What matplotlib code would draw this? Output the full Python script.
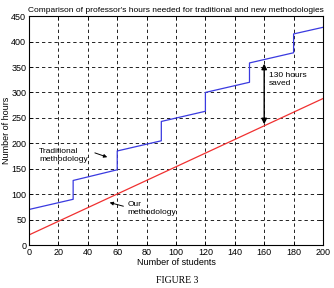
import matplotlib.pyplot as plt

# step-like traditional curve (x, y) points
trad_x = [0, 30, 30, 60, 60, 90, 90, 120, 120, 150, 150, 180, 180, 200]
trad_y = [70, 90, 127, 148, 185, 205, 243, 263, 300, 320, 358, 378, 415, 428]

# our methodology (linear)
our_x = [0, 200]
our_y = [20, 288]

plt.rcParams['font.family'] = ['Liberation Sans', 'DejaVu Sans']

fig = plt.figure(figsize=(3.34, 2.88), dpi=100)
ax = fig.add_axes([0.087, 0.149, 0.88, 0.795])

ax.plot(trad_x, trad_y, color='#3a3ae0', lw=0.9)
ax.plot(our_x, our_y, color='#f03030', lw=0.9)

ax.set_xlim(0, 200)
ax.set_ylim(0, 450)
ax.set_xticks(range(0, 201, 20))
ax.set_yticks(range(0, 451, 50))
ax.grid(True, color='black', ls=(0, (4, 3.5)), lw=0.6)
ax.tick_params(direction='in', labelsize=6.5, length=3, width=0.6,
               top=True, right=True, pad=2)
for s in ax.spines.values():
    s.set_linewidth(0.8)

ax.set_title("Comparison of professor's hours needed for traditional and new methodologies",
             fontsize=6, pad=3)
ax.set_xlabel('Number of students', fontsize=6.5, labelpad=1)
ax.set_ylabel('Number of hours', fontsize=6.5, labelpad=0)

# 130 hours saved
ax.annotate('', xy=(160, 232), xytext=(160, 362),
            arrowprops=dict(arrowstyle='<|-|>', color='black', lw=1, mutation_scale=8))
ax.text(163, 325, '130 hours\nsaved', fontsize=6, va='center', ha='left')

ax.text(7, 177, 'Traditional\nmethodology', fontsize=6, va='center', ha='left')
ax.annotate('', xy=(55, 171), xytext=(43, 183),
            arrowprops=dict(arrowstyle='-|>', color='black', lw=0.7, mutation_scale=5))

ax.text(67, 72, 'Our\nmethodology', fontsize=6, va='center', ha='left')
ax.annotate('', xy=(53, 85), xytext=(66, 75),
            arrowprops=dict(arrowstyle='-|>', color='black', lw=0.7, mutation_scale=5))

fig.text(0.53, 0.027, 'FIGURE 3', family='Liberation Serif', fontsize=7,
         ha='center', va='center')

fig.savefig('out.png', dpi=100)
